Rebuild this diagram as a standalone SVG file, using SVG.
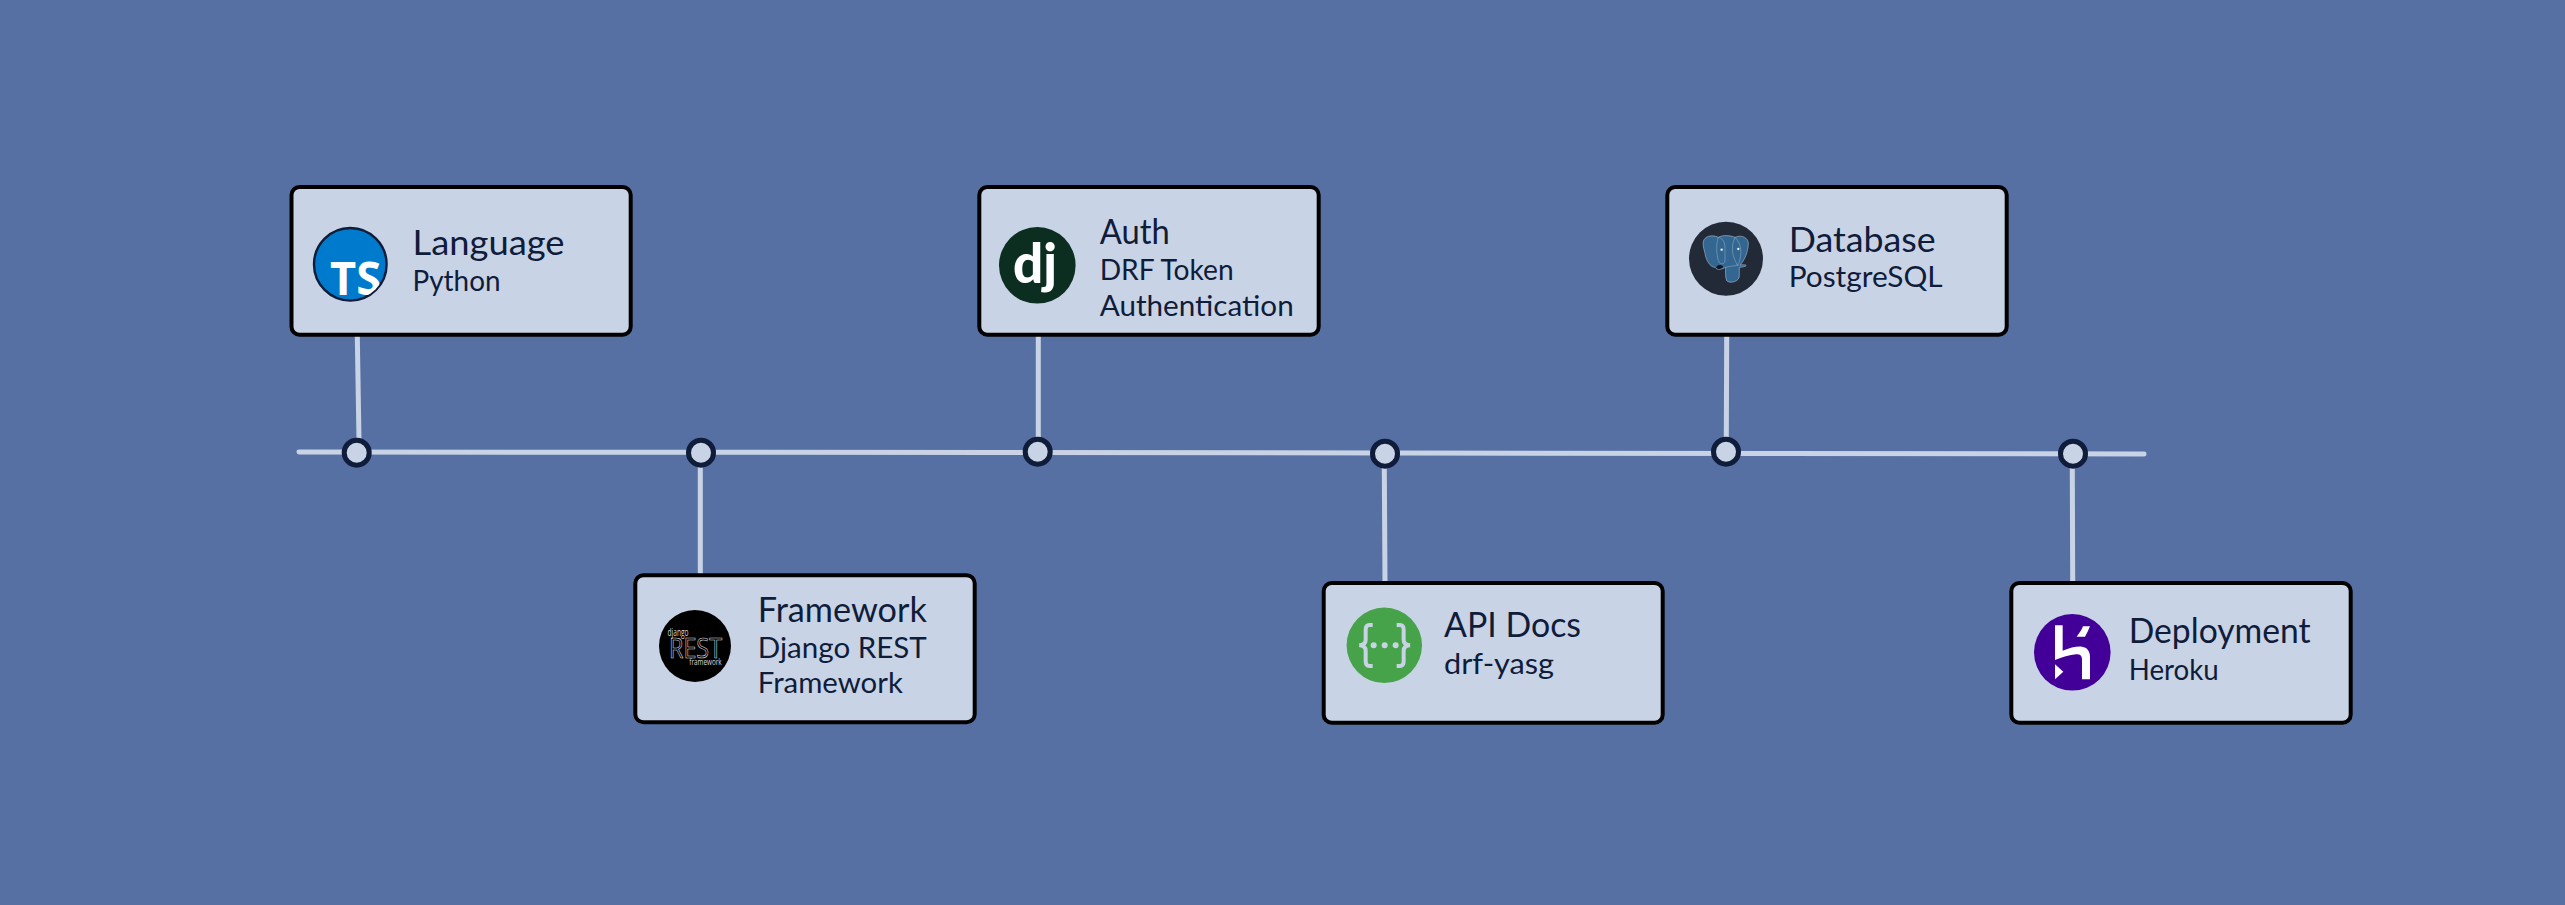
<svg xmlns="http://www.w3.org/2000/svg" width="2565" height="905" viewBox="0 0 2565 905">
<style>
.box{fill:#c9d3e6;stroke:#000;stroke-width:4}
.t{font-family:"Lato","Open Sans",sans-serif;fill:#0f1c3a;font-size:35px}
.s{font-family:"Lato","Open Sans",sans-serif;fill:#0f1c3a;font-size:29px}
.l{fill:none;stroke:#c9d3e6;stroke-width:5;stroke-linecap:round}
.d{fill:#c9d3e6;stroke:#0f1c3a;stroke-width:5}
.ic{font-family:"Open Sans","Liberation Sans",sans-serif;font-weight:700;fill:#fff}
.drf{font-family:"Open Sans","Liberation Sans",sans-serif;fill:#d8d8d8}
.el{fill:#336791;stroke:#b9cbdc;stroke-width:1.6}
.eln{fill:none;stroke:#9fb8cf;stroke-width:1.4}
</style>
<defs><clipPath id="tsc"><circle cx="350.3" cy="264.3" r="35.5"/></clipPath></defs>
<rect width="2565" height="905" fill="#5770a3"/>
<g id="connectors">
<path class="l" d="M299 452L1000 452.5L2144 454"/>
<path class="l" d="M357.3 336L359 440"/>
<path class="l" d="M700.3 467V574"/>
<path class="l" d="M1038.3 336V440"/>
<path class="l" d="M1384.3 468L1385 582"/>
<path class="l" d="M1726.7 336L1726.3 440"/>
<path class="l" d="M2072.3 468L2072.7 582"/>
<circle class="d" cx="356.7" cy="452.7" r="12.5"/>
<circle class="d" cx="701" cy="452.7" r="12.5"/>
<circle class="d" cx="1037.7" cy="451.7" r="12.5"/>
<circle class="d" cx="1385" cy="453.7" r="12.5"/>
<circle class="d" cx="1726" cy="451.7" r="12.5"/>
<circle class="d" cx="2073" cy="453.7" r="12.5"/>
</g>
<g id="node-language">
<rect class="box" x="291.5" y="187" width="339.2" height="147.7" rx="8"/>
<circle cx="350.3" cy="264.3" r="36.3" fill="#007acc" stroke="#0f1c3a" stroke-width="2.4"/>
<text class="ic" x="330" y="295" font-size="46" textLength="51" lengthAdjust="spacingAndGlyphs" clip-path="url(#tsc)">TS</text>
<text class="t" x="412.5" y="255" textLength="152" lengthAdjust="spacingAndGlyphs">Language</text>
<text class="s" x="412.5" y="290.7" textLength="88" lengthAdjust="spacingAndGlyphs">Python</text>
</g>
<g id="node-framework">
<rect class="box" x="635.3" y="575.3" width="339.4" height="147" rx="8"/>
<circle cx="695" cy="646" r="36"/>
<text class="drf" x="667.5" y="635.7" font-size="10" textLength="21" lengthAdjust="spacingAndGlyphs">django</text>
<text class="drf" x="669" y="658.3" font-size="26.5" textLength="53" lengthAdjust="spacingAndGlyphs" style="fill:none;stroke:#dcdcdc;stroke-width:.6;font-weight:400">REST</text>
<text class="drf" x="689.3" y="665" font-size="9" textLength="32.4" lengthAdjust="spacingAndGlyphs">framework</text>
<text class="t" x="757.8" y="621.7" textLength="169" lengthAdjust="spacingAndGlyphs">Framework</text>
<text class="s" x="757.8" y="657.7" textLength="169" lengthAdjust="spacingAndGlyphs">Django REST</text>
<text class="s" x="757.8" y="693.3" textLength="145" lengthAdjust="spacingAndGlyphs">Framework</text>
</g>
<g id="node-auth">
<rect class="box" x="979.3" y="187" width="339.4" height="147.7" rx="8"/>
<circle cx="1037.3" cy="265.3" r="38.3" fill="#0b2e20"/>
<text x="1013" y="283.3" font-size="55" textLength="44" lengthAdjust="spacingAndGlyphs" style="font-family:Lato,'Open Sans',sans-serif;font-weight:900;fill:#fff">dj</text>
<text class="t" x="1099.7" y="244" textLength="70" lengthAdjust="spacingAndGlyphs">Auth</text>
<text class="s" x="1099.7" y="280" textLength="134" lengthAdjust="spacingAndGlyphs">DRF Token</text>
<text class="s" x="1099.7" y="315.7" textLength="194" lengthAdjust="spacingAndGlyphs">Authentication</text>
</g>
<g id="node-api-docs">
<rect class="box" x="1323.7" y="583" width="339" height="139.7" rx="8"/>
<circle cx="1384.3" cy="645.3" r="37.7" fill="#46a34a"/>
<g transform="translate(1300 430) scale(.3333)" fill="none" stroke="#c9d3e6" stroke-width="12">
<path d="M218 585H208C200 585 197 590 197 600V630C197 640 190 645 178 646C190 647 197 652 197 662V693C197 703 200 708 208 708H218"/>
<path d="M290 585H300C308 585 311 590 311 600V630C311 640 318 645 330 646C318 647 311 652 311 662V693C311 703 308 708 300 708H290"/>
<g fill="#c9d3e6" stroke="none"><circle cx="221" cy="646" r="9"/><circle cx="254" cy="646" r="9"/><circle cx="287" cy="646" r="9"/></g>
</g>
<text class="t" x="1444" y="637.3" textLength="137" lengthAdjust="spacingAndGlyphs">API Docs</text>
<text class="s" x="1444" y="674.3" textLength="110" lengthAdjust="spacingAndGlyphs">drf-yasg</text>
</g>
<g id="node-database">
<rect class="box" x="1667.3" y="187" width="339.4" height="147.7" rx="8"/>
<circle cx="1726" cy="258.7" r="37" fill="#222a38"/>
<g transform="translate(1680 210) scale(.3333)">
<path class="el" d="M70 95C72 80 95 72 115 82C130 74 150 76 165 82C185 72 207 85 205 102C204 125 195 150 180 165C205 162 205 170 178 172L178 198C178 215 150 222 140 212C135 200 137 180 137 172C125 178 112 182 105 172C90 172 78 150 75 130C71 115 68 105 70 95Z"/>
<path class="eln" d="M115 82C108 100 108 140 118 158C128 165 135 160 135 150L135 115C135 95 128 85 115 82M165 82C178 95 185 115 182 135C180 150 178 160 172 165C162 145 155 130 158 105C160 95 162 88 165 82M137 172C150 168 165 168 178 165"/>
<path d="M108 172C115 162 125 165 130 170C122 178 112 180 108 172Z" fill="#10151f"/>
<circle cx="125" cy="119" r="3.5" fill="#eef3f8"/><circle cx="175" cy="117" r="3.5" fill="#eef3f8"/>
</g>
<text class="t" x="1788.7" y="251.7" textLength="147" lengthAdjust="spacingAndGlyphs">Database</text>
<text class="s" x="1788.7" y="287.3" textLength="154" lengthAdjust="spacingAndGlyphs">PostgreSQL</text>
</g>
<g id="node-deployment">
<rect class="box" x="2011.3" y="583" width="339.4" height="139.7" rx="8"/>
<circle cx="2072.3" cy="652.3" r="38.3" fill="#430098"/>
<g transform="translate(1990 430) scale(.3333)" fill="#fff">
<path d="M195 586H218V662C240 653 262 648 276 650C292 652 300 664 300 680V748H276V688C276 677 270 672 258 673C240 675 215 682 195 690Z"/>
<path d="M260 620C268 610 275 600 279 589H300C296 600 291 610 285 620Z"/>
<path d="M195 703L220 725L195 748Z"/>
</g>
<text class="t" x="2128.7" y="643.3" textLength="182" lengthAdjust="spacingAndGlyphs">Deployment</text>
<text class="s" x="2128.7" y="680" textLength="90" lengthAdjust="spacingAndGlyphs">Heroku</text>
</g>
</svg>
